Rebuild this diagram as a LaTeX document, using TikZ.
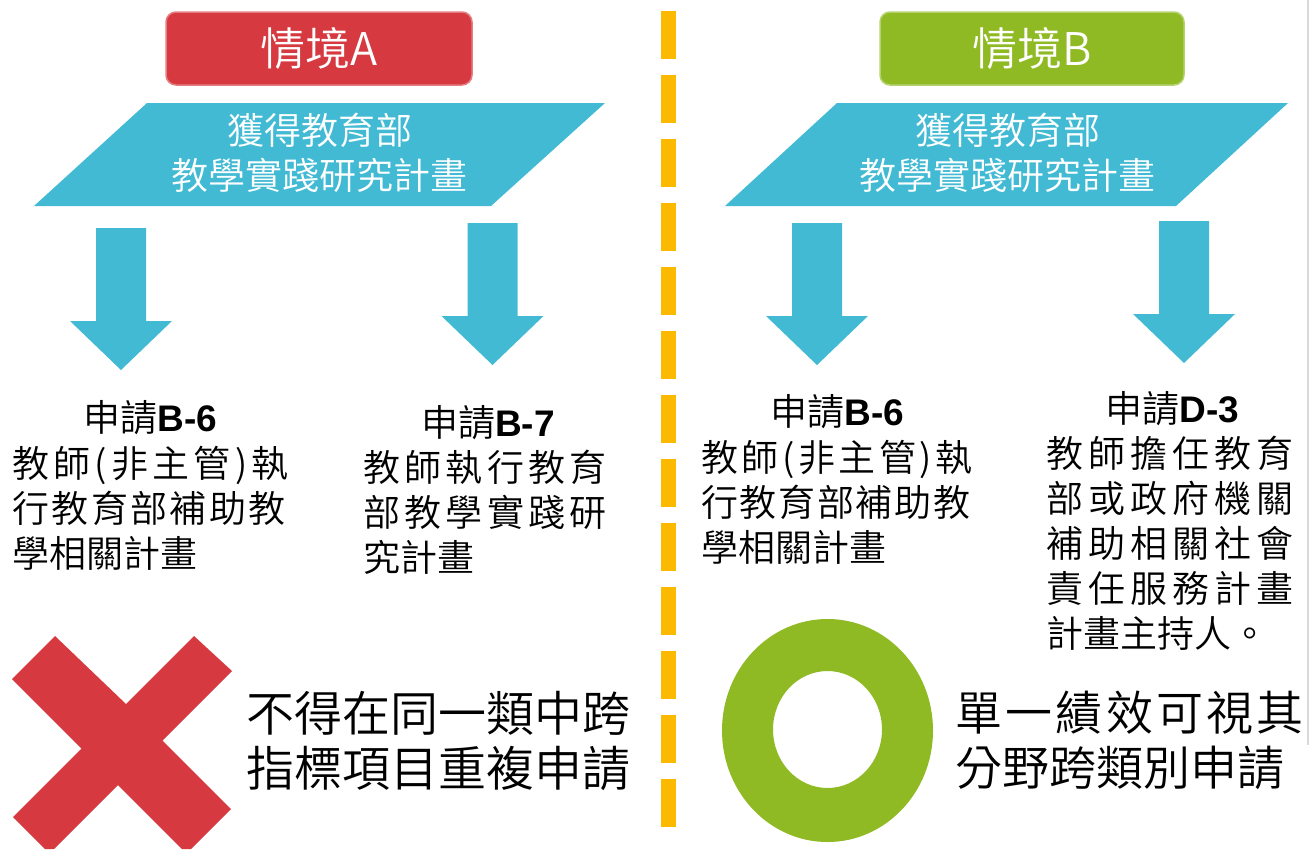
\documentclass[tikz,border=0pt]{standalone}
\usepackage{fontspec}
\setmainfont{Noto Sans CJK TC}[UprightFont={* DemiLight}, BoldFont={* Bold}]
\newfontfamily\arialfont{Liberation Sans}
\definecolor{sitred}{HTML}{D6393F}
\definecolor{sitgreen}{HTML}{8FBA23}
\definecolor{skyblue}{HTML}{42BAD4}
\definecolor{dashorange}{HTML}{FBBA00}

\begin{document}
\begin{tikzpicture}[x=1pt,y=-1pt,
    titlebox/.style={rounded corners=10pt, line width=1.5pt},
    titletext/.style={text=white, font=\fontsize{45}{50}\selectfont, inner sep=0},
    plantext/.style={text=white, align=center, font=\fontsize{37}{45}\selectfont, inner sep=0},
    headtext/.style={font=\fontsize{37}{45}\selectfont, inner sep=0},
    bodytext/.style={anchor=north west, align=left, font=\fontsize{37}{45}\selectfont, inner sep=0},
    notetext/.style={anchor=north west, align=left, inner sep=0}]

    \useasboundingbox (0,0) rectangle (1311,849);

    % 情境A
    \draw[titlebox, draw=sitred!65!white, fill=sitred] (166,12) rectangle (472,85);
    \node[titletext] (titleA) at (319,49) {情境A};
    \fill[skyblue] (34,206) -- (147,103) -- (605,103) -- (491,206) -- cycle;
    \node[plantext] (planA) at (319.5,152.5) {獲得教育部\\教學實踐研究計畫};

    % 情境B
    \draw[titlebox, draw=sitgreen!65!white, fill=sitgreen] (880,12) rectangle (1184,85);
    \node[titletext] (titleB) at (1032,49) {情境B};
    \fill[skyblue] (725,206) -- (837,103) -- (1288,103) -- (1176,206) -- cycle;
    \node[plantext] (planB) at (1007.5,152.5) {獲得教育部\\教學實踐研究計畫};

    % 向下箭頭
    \foreach \x/\y in {121/228, 492.5/223, 817/223, 1184/221}
        \fill[skyblue] (\x-25,\y) -- ++(50,0) -- ++(0,93) -- ++(26,0)
            -- ++(-51,49) -- ++(-51,-49) -- ++(26,0) -- cycle;

    % 中間虛線
    \draw[dashorange, line width=15pt, dash pattern=on 48pt off 16pt] (668.5,11) -- (668.5,827);
    \draw[black!15, line width=2pt] (1308,0) -- (1308,745);

    % 申請項目
    \node[headtext] (headA6) at (150.5,418) {申請{\arialfont\bfseries B-6}};
    \node[bodytext] (bodyA6) at (12,445.5)
        {{\addfontfeature{LetterSpace=11.6}教師(非主管)執}\\
         {\addfontfeature{LetterSpace=6.5}行教育部補助教}\\
         學相關計畫};
    \node[headtext] (headA7) at (488,423) {申請{\arialfont\bfseries B-7}};
    \node[bodytext] (bodyA7) at (363,449.5)
        {{\addfontfeature{LetterSpace=11.7}教師執行教育}\\
         {\addfontfeature{LetterSpace=11.7}部教學實踐研}\\
         究計畫};
    \node[headtext] (headB6) at (837.5,412) {申請{\arialfont\bfseries B-6}};
    \node[bodytext] (bodyB6) at (701,439.5)
        {{\addfontfeature{LetterSpace=9.7}教師(非主管)執}\\
         {\addfontfeature{LetterSpace=4.6}行教育部補助教}\\
         學相關計畫};
    \node[headtext] (headD3) at (1172.5,409) {申請{\arialfont\bfseries D-3}};
    \node[bodytext] (bodyD3) at (1046,435.5)
        {{\addfontfeature{LetterSpace=13.5}教師擔任教育}\\
         {\addfontfeature{LetterSpace=13.5}部或政府機關}\\
         {\addfontfeature{LetterSpace=13.5}補助相關社會}\\
         {\addfontfeature{LetterSpace=13.5}責任服務計畫}\\
         計畫主持人。};

    % 紅色叉
    \fill[sitred] (55,636) -- (126,704) -- (194,636) -- (232,671) -- (162.5,740.5)
        -- (231,809) -- (191,849) -- (182,849) -- (118,785) -- (54,849) -- (45,849)
        -- (13,817) -- (81.5,748.5) -- (12,679) -- cycle;
    \node[notetext, font=\fontsize{48}{55}\selectfont] (noteA) at (246.5,691)
        {不得在同一類中跨\\指標項目重複申請};

    % 綠色圈
    \fill[sitgreen, even odd rule] (827.5,730.5) ellipse [x radius=105.5, y radius=111.5]
        (827.5,729.5) ellipse [x radius=54.5, y radius=58.5];
    \node[notetext, font=\fontsize{47}{55}\selectfont] (noteB) at (955.5,691)
        {{\addfontfeature{LetterSpace=6.7}單一績效可視其}\\分野跨類別申請};
\end{tikzpicture}
\end{document}
